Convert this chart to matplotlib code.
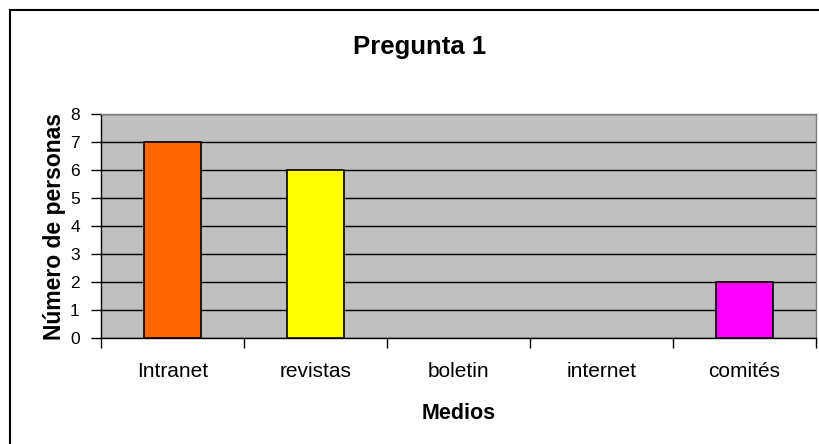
import matplotlib
matplotlib.use("Agg")
import matplotlib.pyplot as plt
from matplotlib.patches import Rectangle

categories = ["Intranet", "revistas", "boletin", "internet", "comités"]
values = [7, 6, 0, 0, 2]
colors = ["#FF6600", "#FFFF00", "#3366FF", "#00CC00", "#FF00FF"]
yticks = [0, 1, 2, 3, 4, 5, 6, 7, 8]

plt.rcParams['font.family'] = ['Liberation Sans', 'DejaVu Sans']

W, H = 819, 444
fig = plt.figure(figsize=(W / 100, H / 100), dpi=100)
fig.patch.set_facecolor("white")

# outer chart border (extends beyond right/bottom of image)
fig.patches.append(Rectangle((9.5 / W, -0.05), 1.2, 1 - 10.5 / H + 0.05,
                             transform=fig.transFigure, fill=False,
                             edgecolor="black", linewidth=1.5, zorder=0))

left, right, top, bottom = 100.7, 816, 114, 338
ax = fig.add_axes([left / W, 1 - bottom / H, (right - left) / W, (bottom - top) / H])
ax.set_facecolor("#C0C0C0")

x = list(range(len(categories)))
lws = [1.2 if v > 0 else 0 for v in values]
ax.bar(x, values, width=0.4, color=colors, edgecolor="black", linewidth=lws, zorder=3)

ax.set_xlim(-0.5, len(categories) - 0.5)
ax.set_ylim(0, 8)
ax.set_yticks(yticks)
ax.set_yticklabels([str(t) for t in yticks], fontsize=12.5)
ax.yaxis.grid(True, color="black", linewidth=1.0, zorder=1)
ax.set_axisbelow(True)

# category labels at centers, ticks at boundaries
ax.set_xticks(x)
ax.set_xticklabels(categories, fontsize=15)
ax.tick_params(axis='x', which='major', length=0, pad=17)
ax.set_xticks([i - 0.5 for i in range(len(categories) + 1)], minor=True)
ax.tick_params(axis='x', which='minor', length=7, width=1, direction='out')
ax.tick_params(axis='y', length=7, width=1, direction='out', pad=8)

for s in ["left", "bottom"]:
    ax.spines[s].set_color("black")
    ax.spines[s].set_linewidth(1.0)
for s in ["top", "right"]:
    ax.spines[s].set_color("#808080")
    ax.spines[s].set_linewidth(1.0)

ax.set_xlabel("Medios", fontsize=15.5, fontweight="bold", labelpad=16)
ax.set_ylabel("Número de personas", fontsize=16.5, fontweight="bold", labelpad=3)

fig.text(419.5 / W, 1 - 47 / H, "Pregunta 1", fontsize=18.5, fontweight="bold",
         ha="center", va="center")

fig.savefig("out.png", dpi=100)
